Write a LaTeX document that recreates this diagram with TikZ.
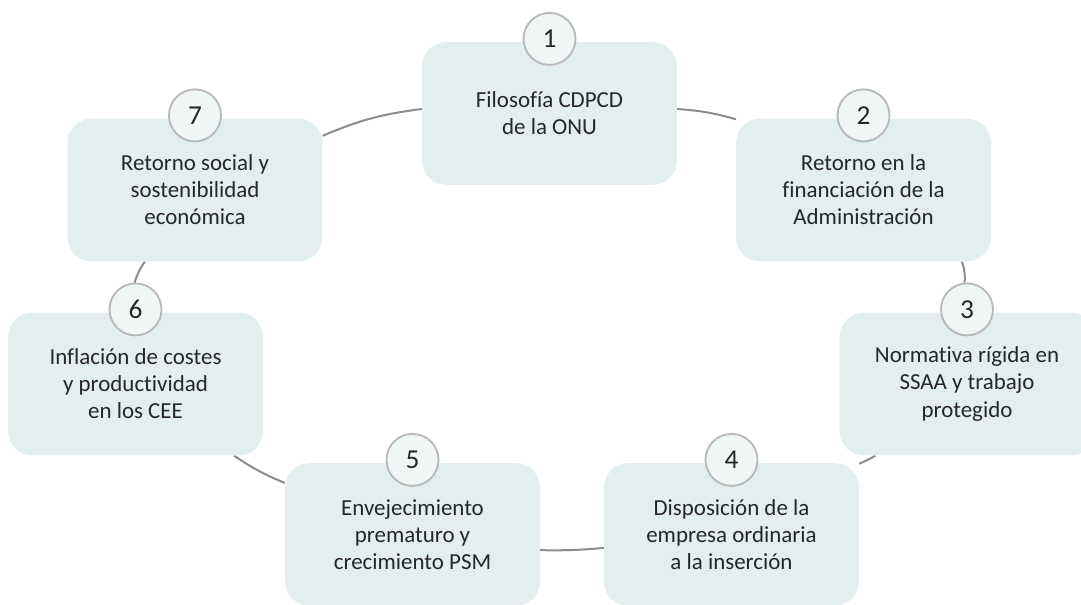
\documentclass[tikz,border=0pt]{standalone}
\usepackage{fontspec}
\setmainfont{Carlito}[Ligatures=NoCommon]
\usetikzlibrary{backgrounds}
\definecolor{boxfill}{RGB}{227,239,239}
\definecolor{numfill}{RGB}{240,246,246}
\definecolor{numline}{RGB}{185,185,185}
\definecolor{linkgray}{RGB}{140,140,140}
\definecolor{txtgray}{RGB}{38,38,38}
\tikzset{
  stage/.style={fill=boxfill, rounded corners=18pt, minimum width=191pt, minimum height=107pt,
    align=center, text=txtgray, inner sep=0pt, font=\fontsize{17.2}{20.3}\selectfont},
  num/.style={circle, draw=numline, line width=1.4pt, fill=numfill, minimum size=39pt,
    inner sep=0pt, text=txtgray, font=\fontsize{20.5}{24}\selectfont},
  link/.style={draw=linkgray, line width=1.5pt}
}

\begin{document}
\begin{tikzpicture}[x=0.75pt,y=-0.75pt]
\useasboundingbox (0,0) rectangle (1081,605);

\node[stage] (b1) at (549.5,113.5) {Filosofía CDPCD\\de la ONU};
\node[stage] (b2) at (863.5,190) {Retorno en la\\financiación de la\\Administración};
\node[stage] (b3) at (967,384) {Normativa rígida en\\SSAA y trabajo\\protegido};
\node[stage] (b4) at (731.5,534.5) {Disposición de la\\empresa ordinaria\\a la inserción};
\node[stage] (b5) at (412.5,534.5) {Envejecimiento\\prematuro y\\crecimiento PSM};
\node[stage] (b6) at (135.5,384) {Inflación de costes\\y productividad\\en los CEE};
\node[stage] (b7) at (195,190) {Retorno social y\\sostenibilidad\\económica};

% numbers on top of each box
\foreach \i in {1,...,7}
  \node[num] (c\i) at ([yshift=2.25pt]b\i.north) {\i};

% the cycle
\begin{pgfonlayer}{background}
\draw[link] (b7.23.6) to[bend left=8] (b1.178.4);
\draw[link] (b1.2) to[bend left=6] (b2.151);
\draw[link] (b2.-36.7) to[bend left=10] (c3.95);
\draw[link] (b3.-142.8) to[bend left=4] (b4.29.7);
\draw[link] (b4.186.5) to[bend left=3] (b5.-7.4);
\draw[link] (b5.158.2) to[bend left=6] (b6.-36.7);
\draw[link] (c6.92) to[bend left=8] (b7.-125.3);
\end{pgfonlayer}
\end{tikzpicture}
\end{document}
